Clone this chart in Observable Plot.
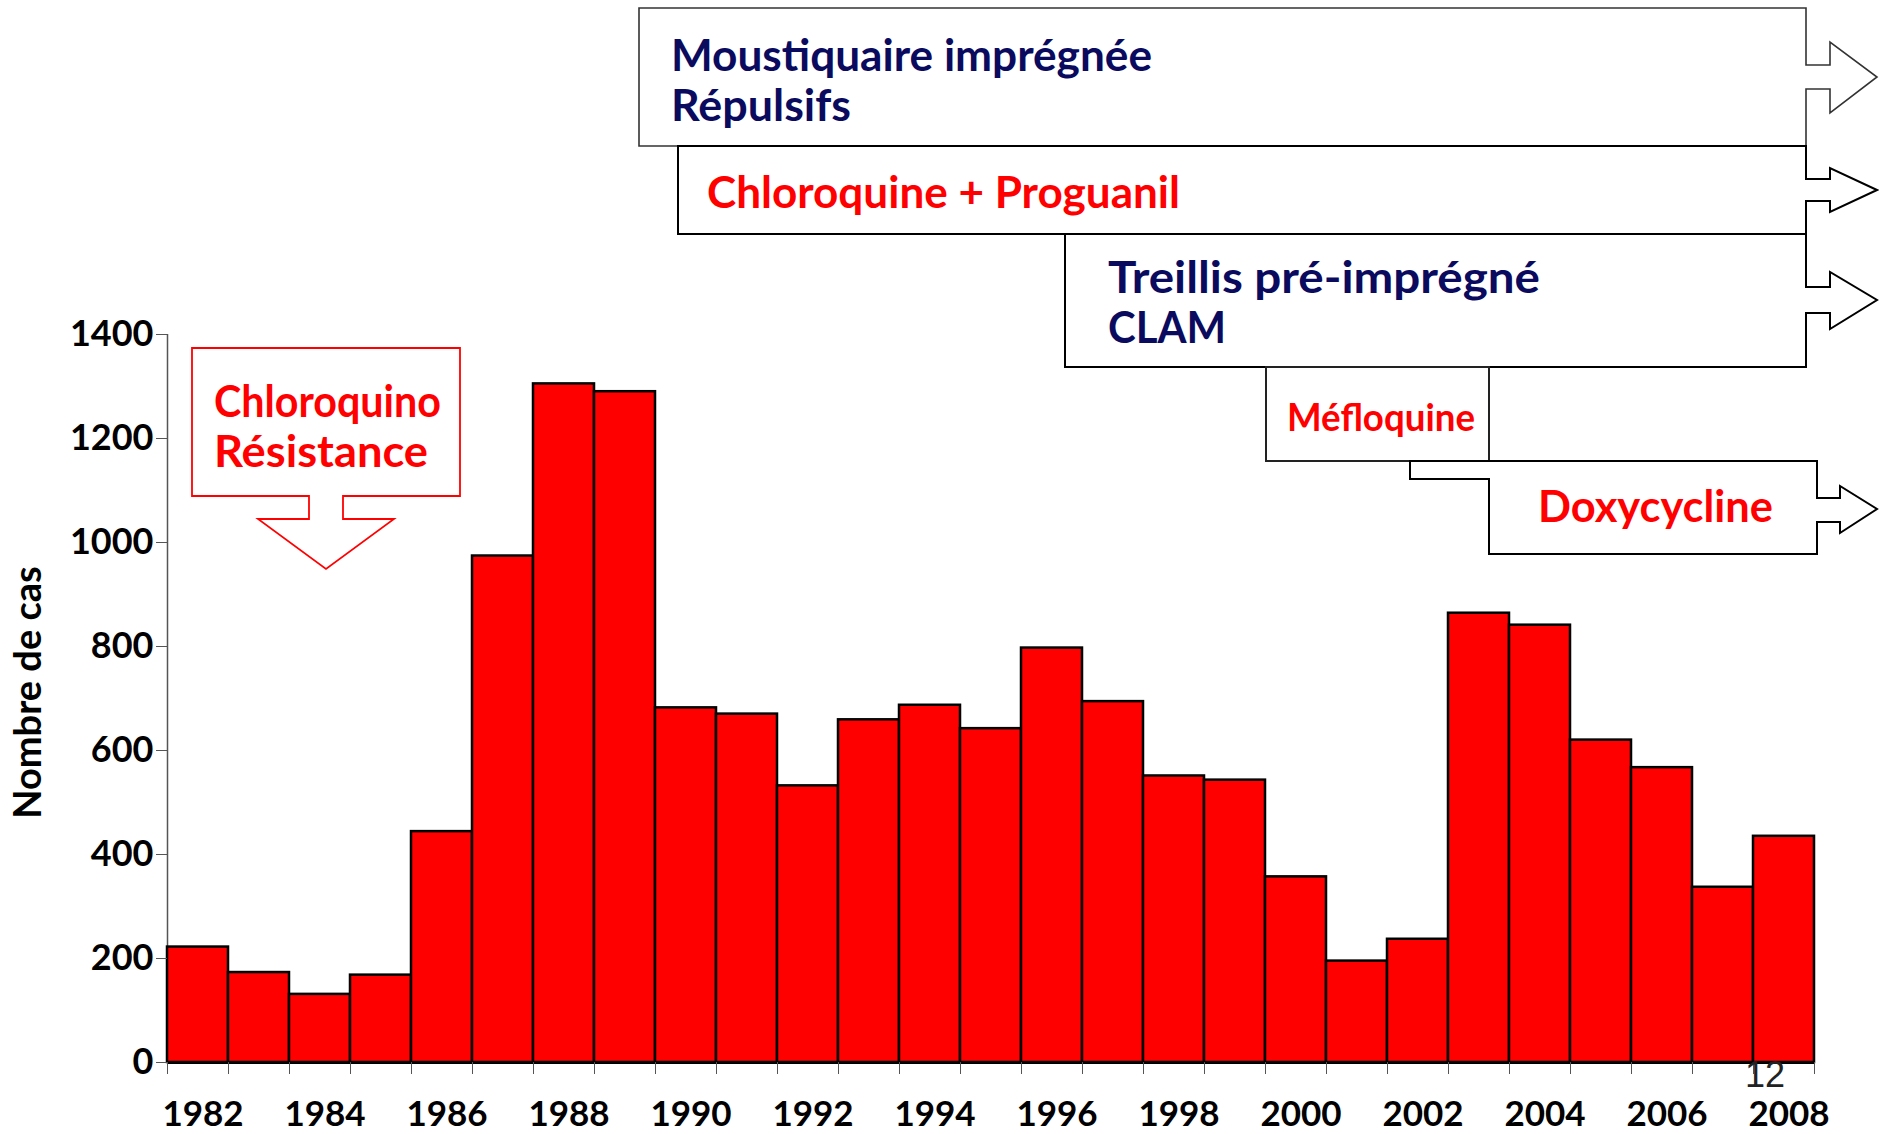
<!DOCTYPE html>
<html>
<head>
<meta charset="utf-8">
<script src="https://cdn.jsdelivr.net/npm/d3@7"></script>
<script src="https://cdn.jsdelivr.net/npm/@observablehq/plot@0.6"></script>
<style>
  html, body { margin: 0; padding: 0; background: #fff; }
  #chart { width: 1879px; height: 1134px; overflow: hidden; }
</style>
</head>
<body>
<div id="chart"></div>
<script>
// ---- data ----
const years = [1982, 1983, 1984, 1985, 1986, 1987, 1988, 1989, 1990, 1991, 1992, 1993, 1994, 1995,
               1996, 1997, 1998, 1999, 2000, 2001, 2002, 2003, 2004, 2005, 2006, 2007, 2008];
const cases = [222, 173, 131, 168, 444, 974, 1305, 1290, 682, 670, 532, 659, 687, 642,
               797, 694, 551, 543, 357, 195, 237, 864, 841, 620, 567, 337, 435];
const yTicks = [0, 200, 400, 600, 800, 1000, 1200, 1400];
const yearLabels = [1982, 1984, 1986, 1988, 1990, 1992, 1994, 1996, 1998, 2000, 2002, 2004, 2006, 2008];
const yTitle = "Nombre de cas";
const annotationTexts = [
  ["Moustiquaire imprégnée", "Répulsifs"],
  ["Chloroquine + Proguanil"],
  ["Treillis pré-imprégné", "CLAM"],
  ["Méfloquine"],
  ["Doxycycline"],
  ["Chloroquino", "Résistance"]
];
const pageNumber = "12";

// ---- table built from the arrays ----
const table = years.map((year, i) => ({year, value: cases[i]}));
const boundaries = [...years.map(y => y - 0.5), years[years.length - 1] + 0.5];

const RED = "#ff0000";
const NAVY = "#0a0a5e";
const FONT = "Lato, sans-serif";

const plot = Plot.plot({
  width: 1879,
  height: 1134,
  marginLeft: 167,
  marginRight: 65,
  marginTop: 334,
  marginBottom: 72,
  style: {fontFamily: FONT, fontSize: "34px", fontWeight: "bold", color: "#000", background: "#fff"},
  x: {domain: [boundaries[0], boundaries[boundaries.length - 1]]},
  y: {domain: [0, 1400]},
  marks: [
    Plot.ruleX([boundaries[0]], {y1: 0, y2: 1400, stroke: "#555", strokeWidth: 1.5}),
    Plot.rectY(table, {x1: d => d.year - 0.5, x2: d => d.year + 0.5, y: "value",
                       fill: RED, stroke: "#000", strokeWidth: 2.5}),
    Plot.ruleY([0], {stroke: "#000", strokeWidth: 3}),
    Plot.axisY({ticks: yTicks, tickSize: 11, tickPadding: 3, label: null, stroke: "#555",
                tickFormat: d => String(d), fontSize: 36, fontWeight: "bold", fill: "#000"}),
    Plot.axisX({ticks: boundaries, tickSize: 12, tickFormat: () => "", label: null, stroke: "#555"}),
    Plot.axisX({ticks: yearLabels, tickSize: 0, tickPadding: 39, tickFormat: d => String(d),
                label: null, fontSize: 35, fontWeight: "bold", fill: "#000", dx: 5}),
    Plot.text([yTitle], {frameAnchor: "left", rotate: -90, dx: -139, dy: -6, fontSize: 38,
                         fontWeight: "bold", fill: "#000", textAnchor: "middle"})
  ]
});
document.getElementById("chart").appendChild(plot);

// ---- annotation boxes (decoration, page pixel layout) ----
const layout = [
  {path: "M639,8 H1806 V65 H1830 V42 L1877,77 L1830,113 V89 H1806 V146 H639 Z", stroke: "#333", sw: 1.6,
   color: NAVY, size: 43, lines: [{x: 671, y: 71, w: 481}, {x: 671, y: 121, w: 180}]},
  {path: "M678,146 H1806 V179 H1830 V168 L1877,190 L1830,212 V201 H1806 V234 H678 Z", stroke: "#000", sw: 2,
   color: RED, size: 43, lines: [{x: 707, y: 208, w: 473}]},
  {path: "M1065,234 H1806 V287 H1830 V272 L1877,300 L1830,329 V313 H1806 V367 H1065 Z", stroke: "#000", sw: 2,
   color: NAVY, size: 43, lines: [{x: 1108, y: 293, w: 432}, {x: 1108, y: 343, w: 118}]},
  {path: "M1266,367 H1489 V461 H1266 Z", stroke: "#222", sw: 2,
   color: RED, size: 38, lines: [{x: 1287, y: 431, w: 188}]},
  {path: "M1410,461 H1817 V498 H1840 V486 L1877,509 L1840,533 V522 H1817 V554 H1489 V479 H1410 Z", stroke: "#000", sw: 2,
   color: RED, size: 44, lines: [{x: 1538, y: 522, w: 235}]},
  {path: "M192,348 H460 V496 H343 V519 H394 L326,569 L258,519 H309 V496 H192 Z", stroke: RED, sw: 1.8,
   color: RED, size: 43, lines: [{x: 214, y: 417, w: 227}, {x: 214, y: 467, w: 214}]}
];

const svg = d3.select(plot);
const g = svg.append("g").attr("class", "annotations").attr("text-anchor", "start");
layout.forEach((b, i) => {
  g.append("path").attr("d", b.path).attr("fill", "#fff").attr("stroke", b.stroke)
    .attr("stroke-width", b.sw).attr("stroke-linejoin", "miter");
  b.lines.forEach((ln, j) => {
    g.append("text").attr("x", ln.x).attr("y", ln.y).attr("text-anchor", "start")
      .attr("font-family", FONT).attr("font-weight", "bold").attr("font-size", b.size)
      .attr("fill", b.color).attr("textLength", ln.w).attr("lengthAdjust", "spacingAndGlyphs")
      .text(annotationTexts[i][j]);
  });
});
svg.append("text").attr("x", 1765).attr("y", 1087).attr("text-anchor", "middle")
  .attr("font-family", "'Liberation Sans', sans-serif").attr("font-weight", "normal")
  .attr("font-size", 36).attr("fill", "#222").text(pageNumber);
</script>
</body>
</html>
